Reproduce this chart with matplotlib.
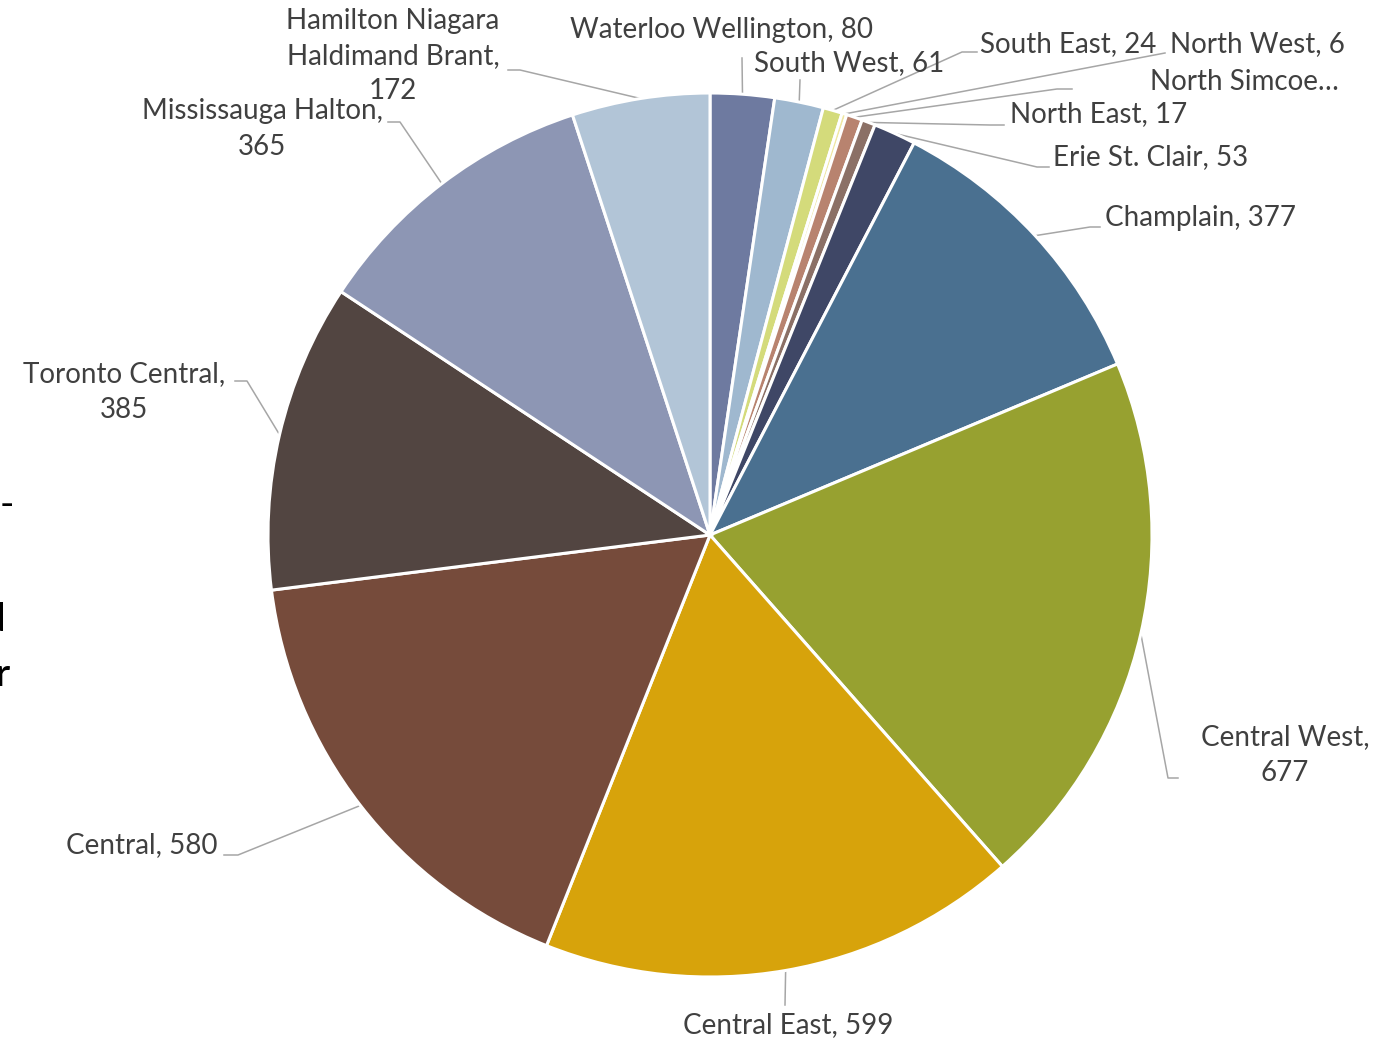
import matplotlib
matplotlib.use("Agg")
import matplotlib.pyplot as plt
import numpy as np

# regions in clockwise order starting at 12 o'clock
regions = ["Waterloo Wellington", "South West", "South East", "North West",
           "North Simcoe Muskoka", "North East", "Erie St. Clair", "Champlain",
           "Central West", "Central East", "Central", "Toronto Central",
           "Mississauga Halton", "Hamilton Niagara Haldimand Brant"]
counts = [80, 61, 24, 6, 20, 17, 53, 377, 677, 599, 580, 385, 365, 172]

# text shown on each label (name part), and what goes between name and count
shown_names = ["Waterloo Wellington", "South West", "South East", "North West",
               "North Simcoe…", "North East", "Erie St. Clair", "Champlain",
               "Central West", "Central East", "Central", "Toronto Central",
               "Mississauga Halton", "Hamilton Niagara\nHaldimand Brant"]
label_sep = [" ", " ", " ", " ", None, " ", " ", " ",
             "\n", " ", " ", "\n", "\n", "\n"]

colors = ["#6E7AA0", "#9FB8CF", "#D4DB7B", "#EFE7A2", "#B8836F", "#8B7066",
          "#3F4766", "#4A7090", "#97A130", "#D7A30B", "#764B3B", "#524541",
          "#8D96B4", "#B2C5D7"]

# label placement in pixels: (x, y, ha), then leader elbow and end points
label_pos = [(722, 30, "center"), (849, 63, "center"), (980, 44, "left"),
             (1170, 44, "left"), (1150, 82, "left"), (1010, 114, "left"),
             (1053, 157, "left"), (1105, 218, "left"), (1285, 755, "center"),
             (788, 1025, "center"), (218, 845, "right"), (124, 392, "center"),
             (262, 129, "center"), (393, 56, "center")]
leader_pts = [[(742, 58)], [(800, 80)], [(962, 52), (977, 52)],
              [(1165, 53)], [(1057, 89), (1072, 89)], [(990, 125), (1004, 125)],
              [(1037, 167), (1049, 167)], [(1090, 227), (1100, 227)],
              [(1168, 778), (1178, 778)], [(785, 1005)],
              [(238, 855), (224, 855)], [(247, 381), (235, 381)],
              [(400, 122), (388, 122)], [(520, 70), (508, 70)]]

W, H = 1391, 1040
CX, CY, R = 710, 535, 442
TXT = "#404040"
FONT = ["Lato", "DejaVu Sans"]


def to_data(x, y):
    return (x - CX) / R, (CY - y) / R


fig = plt.figure(figsize=(W / 100, H / 100), dpi=100)
ax = fig.add_axes([(CX - R) / W, (H - CY - R) / H, 2 * R / W, 2 * R / H])
wedges, _ = ax.pie(counts, colors=colors, startangle=90, counterclock=False,
                   wedgeprops=dict(edgecolor="white", linewidth=2.2))
ax.set_xlim(-1, 1)
ax.set_ylim(-1, 1)
ax.axis("off")

for w, name, sep, val, (lx, ly, ha), pts in zip(wedges, shown_names, label_sep, counts,
                                                  label_pos, leader_pts):
    # leader runs from the rim at the wedge's mid-angle out to the label
    mid = np.deg2rad((w.theta1 + w.theta2) / 2)
    xs = [np.cos(mid)] + [to_data(*p)[0] for p in pts]
    ys = [np.sin(mid)] + [to_data(*p)[1] for p in pts]
    ax.plot(xs, ys, color="#A6A6A6", lw=1.1, clip_on=False, zorder=0)
    txt = name if sep is None else f"{name},{sep}{val}"
    tx, ty = to_data(lx, ly)
    ax.text(tx, ty, txt, ha=ha, va="center", ma="center", fontsize=20,
            color=TXT, family=FONT, linespacing=1.45, clip_on=False)

# slide text cut off at the left edge
for s, x, y in [("-", 14, 505), ("d", 5, 620), ("r", 10, 675)]:
    fig.text(x / W, 1 - y / H, s, ha="right", va="center", fontsize=28,
             color="black", family=FONT)

fig.savefig("out.png", dpi=100)
